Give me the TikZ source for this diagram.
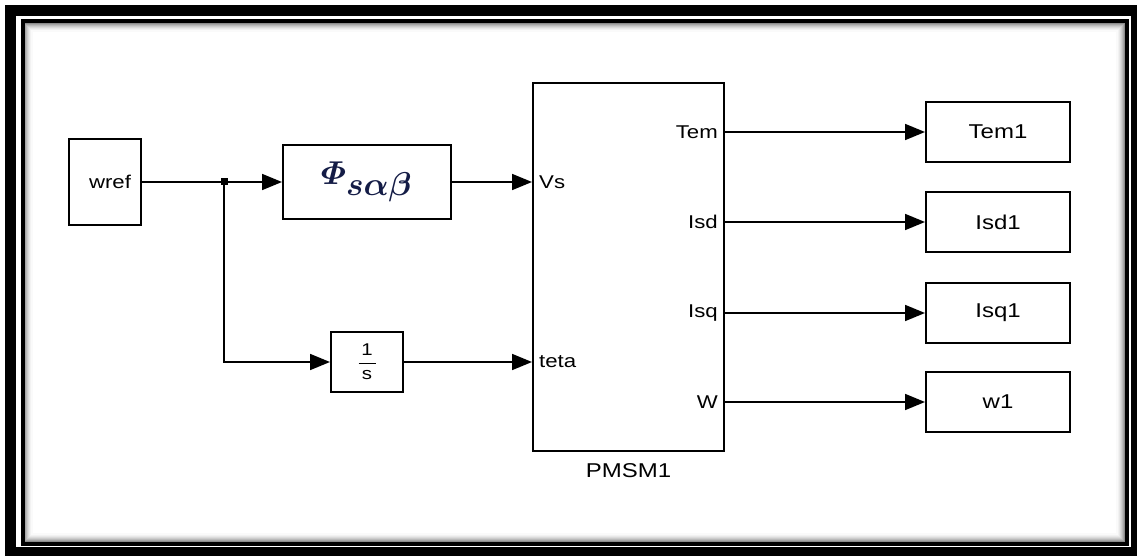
\documentclass[tikz,border=0pt]{standalone}
\usepackage{amsmath}
\usepackage{graphicx}
\usepackage{fontspec}
\newfontfamily\simfont{Liberation Sans}[FakeStretch=1.2]
\usetikzlibrary{arrows.meta,positioning,calc}
\definecolor{phiblue}{RGB}{20,28,70}

\begin{document}
\begin{tikzpicture}[x=1pt, y=-1pt,
    block/.style={draw, line width=2pt, fill=white, inner sep=0pt, font=\simfont\fontsize{20}{22}\selectfont},
    port/.style={inner sep=0pt, font=\simfont\fontsize{18.5}{20}\selectfont},
    wire/.style={line width=1.8pt},
    arr/.style={-{Triangle[length=20pt,width=16pt]}, line width=1.8pt},
    jdot/.style={fill, inner sep=0pt, minimum size=7pt}
]
\useasboundingbox (0,0) rectangle (1137,556);
% frame
\draw[line width=11pt] (10.5,10.5) rectangle (1136.5,552.5);
\foreach \i/\c in {1/45,2/35,3/27,4/20,5/14,6/9,7/5,8/2}
    \draw[black!\c, line width=1.2pt] (24+\i,23+\i) rectangle (1125-\i,542-\i);
\draw[line width=4pt] (22.5,21.5) rectangle (1126.5,543.5);

% blocks
\node[block, minimum width=72pt, minimum height=85pt, text width=52pt, align=right,
      font=\simfont\fontsize{18.5}{20}\selectfont] (wref) at (105,182) {wref};
\node[block, minimum width=168pt, minimum height=73pt, text=phiblue] (phi) at (367,182)
    {\normalsize\scalebox{3.3}{$\boldsymbol{\varPhi}_{\textstyle\boldsymbol{s\alpha\beta}}$}};
\node[block, minimum width=72pt, minimum height=60pt] (integ) at (367,362)
    {\fontsize{17}{19}\selectfont$\genfrac{}{}{1.5pt}{0}{\makebox[17pt]{1}}{\makebox[17pt]{s}}$};
\node[block, minimum width=191pt, minimum height=368pt] (pmsm) at (628.5,267) {};
\node[port, font=\simfont\fontsize{20}{22}\selectfont, below=11pt of pmsm] (pmsmlbl) {PMSM1};

\node[block, minimum width=144pt, minimum height=60pt] (tem1) at (998,132) {Tem1};
\node[block, minimum width=144pt, minimum height=60pt] (isd1) at (998,222) {Isd1};
\node[block, minimum width=144pt, minimum height=60pt] (isq1) at (998,313) {Isq1};
\node[block, minimum width=144pt, minimum height=60pt] (w1) at (998,402) {w1};

% ports
\node[port, anchor=west] (vs) at ([xshift=7pt]pmsm.west |- phi) {Vs};
\node[port, anchor=west] (teta) at ([xshift=7pt]pmsm.west |- integ) {teta};
\node[port, anchor=east] (tem) at ([xshift=-7pt]pmsm.east |- tem1) {Tem};
\node[port, anchor=east] (isd) at ([xshift=-7pt]pmsm.east |- isd1) {Isd};
\node[port, anchor=east] (isq) at ([xshift=-7pt]pmsm.east |- isq1) {Isq};
\node[port, anchor=east] (wout) at ([xshift=-7pt]pmsm.east |- w1) {W};

% wires
\coordinate (split) at (224,182);
\draw[wire] (wref.east) -- (split);
\draw[arr] (split) -- (phi.west);
\draw[arr] (split) |- (integ.west);
\draw[arr] (phi.east) -- (phi.east -| pmsm.west);
\draw[arr] (integ.east) -- (integ.east -| pmsm.west);
\foreach \o in {tem1,isd1,isq1,w1}
    \draw[arr] (pmsm.east |- \o) -- (\o.west);
\node[jdot] (splitdot) at (split) {};
\end{tikzpicture}
\end{document}
